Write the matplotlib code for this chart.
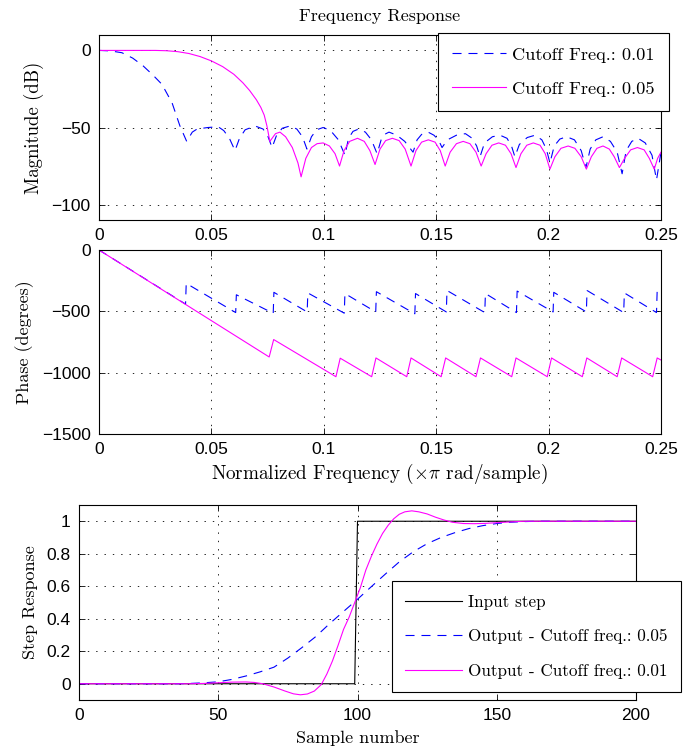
import matplotlib

matplotlib.use("Agg")
import matplotlib.pyplot as plt


# ---- magnitude response (normalized freq, dB) ----
MAG_FREQ_001 = [
    0.0, 0.005, 0.0102, 0.015, 0.0196, 0.024, 0.028, 0.0325, 0.036, 0.039,
    0.0415, 0.0436, 0.0485, 0.053, 0.0555, 0.058, 0.0605,
    0.0625, 0.065, 0.0694, 0.073, 0.0752, 0.077,
    0.079, 0.0815, 0.085, 0.088, 0.0905, 0.0925,
    0.0945, 0.0968, 0.0997, 0.103, 0.1065, 0.1094,
    0.111, 0.113, 0.1155, 0.1185, 0.1212, 0.1237,
    0.1255, 0.127, 0.129, 0.1325, 0.136, 0.1397,
    0.1415, 0.1435, 0.1464, 0.149, 0.151, 0.1526,
    0.155, 0.159, 0.163, 0.166, 0.168, 0.1695,
    0.1715, 0.175, 0.1784, 0.1815, 0.1835, 0.185,
    0.187, 0.1905, 0.194, 0.197, 0.199, 0.2006,
    0.2025, 0.205, 0.208, 0.2115, 0.2145, 0.2166,
    0.2185, 0.221, 0.2242, 0.2275, 0.2305, 0.2327,
    0.2345, 0.237, 0.2398, 0.243, 0.246, 0.248, 0.25,
]
MAG_DB_001 = [
    0, -0.3, -1.5, -5, -10, -16, -22, -34, -49, -59,
    -53, -51, -50, -49.5, -52, -57, -65,
    -57, -51.5, -49, -51, -56, -63,
    -55, -50.5, -49, -51, -56, -64,
    -56, -51.5, -50, -52, -58, -68,
    -57, -52.5, -51, -53, -58, -67,
    -58, -54.5, -53, -55, -59, -66,
    -58, -54.5, -53, -55, -58, -63,
    -58, -55, -54, -57, -62, -69,
    -60, -56, -55, -57, -62, -69,
    -61, -56.5, -55, -58, -64, -73,
    -62, -57.5, -56, -58, -65, -76,
    -64, -58, -56, -59, -66, -80,
    -65, -59, -57, -60, -68, -84, -66,
]

MAG_FREQ_005 = [
    0.0, 0.025, 0.03, 0.035, 0.04, 0.045, 0.05, 0.055, 0.06, 0.064,
    0.067, 0.07, 0.072, 0.0735, 0.0747, 0.076, 0.0785, 0.0805, 0.083,
    0.086, 0.0885,
    0.0899, 0.092, 0.0945, 0.097, 0.0997, 0.1025, 0.105, 0.107,
    0.109, 0.1115, 0.115, 0.118, 0.1205, 0.1228,
    0.125, 0.1275, 0.1305, 0.1335, 0.1362, 0.1388,
    0.141, 0.1435, 0.1465, 0.1495, 0.1518, 0.154,
    0.1562, 0.159, 0.162, 0.165, 0.1677, 0.17,
    0.1722, 0.1748, 0.1778, 0.1808, 0.1833, 0.1855,
    0.1877, 0.1903, 0.1932, 0.1962, 0.1985, 0.2006,
    0.2028, 0.2055, 0.2087, 0.2117, 0.2145, 0.2168,
    0.219, 0.2215, 0.2242, 0.227, 0.2292, 0.2315,
    0.2338, 0.2365, 0.2395, 0.2425, 0.2448, 0.247, 0.2485, 0.25,
]
MAG_DB_005 = [
    0, 0, -0.2, -0.8, -2.0, -4.0, -6.8, -10.5, -15.5, -21,
    -26, -32, -37, -42, -49, -59, -54, -53, -56,
    -63, -73,
    -82, -70, -63, -60.5, -60, -62, -67, -75,
    -65, -59, -57, -59, -65, -74,
    -64, -58.5, -57, -58.5, -64, -75,
    -65, -59.5, -58, -59.5, -65, -75,
    -66, -60.5, -59, -60.5, -66, -75,
    -67, -61.5, -60, -61.5, -67, -76,
    -67, -61.5, -60, -61.5, -67, -77,
    -69, -63.5, -62, -63.5, -69, -77,
    -69, -63.5, -62, -64, -69, -76,
    -70, -64.5, -63, -64.5, -70, -77, -70, -66,
]

# ---- phase response (normalized freq, degrees) ----
PHASE_FREQ_001 = [
    0.0, 0.0385, 0.0388, 0.0608, 0.0611, 0.0775, 0.0778, 0.0926, 0.0929,
    0.1091, 0.1094, 0.1231, 0.1234, 0.1405, 0.1408, 0.1545, 0.1548,
    0.1716, 0.1719, 0.1857, 0.186, 0.202, 0.2023, 0.2168, 0.2171,
    0.2334, 0.2337, 0.248, 0.2483, 0.25,
]
PHASE_DEG_001 = [
    0, -441, -272, -510, -365, -516, -345, -505, -350,
    -515, -355, -505, -340, -520, -355, -505, -330,
    -510, -355, -510, -335, -505, -345, -505, -330,
    -510, -350, -510, -330, -350,
]

PHASE_FREQ_005 = [
    0.0, 0.0757, 0.0777, 0.1054, 0.1073, 0.1213, 0.1232, 0.1369, 0.1388,
    0.1522, 0.1542, 0.1677, 0.1697, 0.1836, 0.1855, 0.1994, 0.2013,
    0.215, 0.217, 0.2305, 0.2325, 0.2463, 0.2483, 0.25,
]
PHASE_DEG_005 = [
    0, -872, -730, -1033, -882, -1033, -880, -1033, -880,
    -1033, -880, -1033, -880, -1033, -880, -1033, -880,
    -1033, -880, -1033, -880, -1033, -880, -897,
]

# ---- step response ----
STEP_N = [0, 99, 100, 200]
STEP_IN = [0, 0, 1, 1]

STEP_N_005 = [
    0, 35, 40, 45, 50, 55, 60, 65, 70, 75, 80, 85, 90, 95, 100, 105,
    110, 115, 120, 125, 130, 135, 140, 145, 150, 155, 160, 165, 200,
]
STEP_OUT_005 = [
    0, 0, 0.002, 0.006, 0.012, 0.027, 0.048, 0.073, 0.102, 0.158, 0.222,
    0.29, 0.37, 0.445, 0.52, 0.598, 0.675, 0.75, 0.812, 0.862, 0.9, 0.93,
    0.955, 0.973, 0.986, 0.994, 0.998, 1.0, 1.0,
]

STEP_N_001 = [
    0, 40, 45, 50, 55, 60, 63, 66, 70, 74, 77, 79.5, 82, 84.5, 87, 89, 91,
    93, 95, 97, 99, 101, 103, 105, 107, 109, 111, 113, 115, 117, 119.5,
    122, 125, 128, 131, 134, 138, 142, 146, 150, 155, 160, 200,
]
STEP_OUT_001 = [
    0, 0, 0.002, 0.006, 0.010, 0.011, 0.008, 0.0, -0.02, -0.045, -0.062,
    -0.068, -0.063, -0.045, -0.005, 0.06, 0.14, 0.235, 0.335, 0.41, 0.50,
    0.59, 0.70, 0.785, 0.86, 0.925, 0.975, 1.015, 1.043, 1.058, 1.064,
    1.058, 1.045, 1.025, 1.008, 0.994, 0.986, 0.985, 0.987, 0.991, 0.996,
    1.0, 1.0,
]

BLUE = "#0000ff"
MAGENTA = "#ff00ff"
SERIF = "cmr10"
TICK_FONT = "Liberation Sans"

plt.rcParams["mathtext.fontset"] = "cm"
plt.rcParams["axes.unicode_minus"] = True
plt.rcParams["lines.scale_dashes"] = False

DASHES = (6.5, 5)


def style_axes(ax):
    ax.tick_params(
        direction="in", length=4, width=0.6, top=True, right=True,
        labelsize=12.5, pad=6,
    )
    for label in ax.get_xticklabels() + ax.get_yticklabels():
        label.set_fontfamily(TICK_FONT)
    ax.grid(True, color="black", linestyle=(0, (1, 5)), linewidth=0.6)
    for spine in ax.spines.values():
        spine.set_linewidth(0.8)


def make_legend(fig, ax, loc_px, size, spacing, pad, handle):
    leg = ax.legend(
        loc="upper left",
        bbox_to_anchor=(loc_px[0] / 695, 1 - loc_px[1] / 748),
        bbox_transform=fig.transFigure,
        borderaxespad=0,
        prop={"family": SERIF, "size": size},
        fancybox=False,
        framealpha=1,
        edgecolor="black",
        handlelength=handle,
        labelspacing=spacing,
        borderpad=pad,
        handletextpad=0.35,
    )
    leg.get_frame().set_linewidth(0.8)


def plot_magnitude(fig):
    ax = fig.add_axes([99 / 695, 1 - 220 / 748, 562 / 695, 185 / 748])
    ax.plot(MAG_FREQ_001, MAG_DB_001, color=BLUE, linewidth=0.8,
            linestyle="--", dashes=DASHES, label="Cutoff Freq.: 0.01")
    ax.plot(MAG_FREQ_005, MAG_DB_005, color=MAGENTA, linewidth=0.8,
            label="Cutoff Freq.: 0.05")
    ax.set_xlim(0, 0.25)
    ax.set_ylim(-110, 10)
    ax.set_xticks([0, 0.05, 0.1, 0.15, 0.2, 0.25])
    ax.set_xticklabels(["0", "0.05", "0.1", "0.15", "0.2", "0.25"])
    ax.set_yticks([-100, -50, 0])
    style_axes(ax)
    ax.set_ylabel("Magnitude (dB)", family=SERIF, fontsize=13.5)
    ax.yaxis.set_label_coords(-0.098, 0.5)
    ax.text(0.5, 1.103, "Frequency Response", transform=ax.transAxes,
            ha="center", va="center", family=SERIF, fontsize=13)
    make_legend(fig, ax, (438, 33), 13.2, 1.0, 0.75, 2.95)


def plot_phase(fig):
    ax = fig.add_axes([99 / 695, 1 - 434 / 748, 562 / 695, 184 / 748])
    ax.plot(PHASE_FREQ_001, PHASE_DEG_001, color=BLUE, linewidth=0.8,
            linestyle="--", dashes=DASHES)
    ax.plot(PHASE_FREQ_005, PHASE_DEG_005, color=MAGENTA, linewidth=0.8)
    ax.set_xlim(0, 0.25)
    ax.set_ylim(-1500, 0)
    ax.set_xticks([0, 0.05, 0.1, 0.15, 0.2, 0.25])
    ax.set_xticklabels(["0", "0.05", "0.1", "0.15", "0.2", "0.25"])
    ax.set_yticks([-1500, -1000, -500, 0])
    style_axes(ax)
    ax.set_ylabel("Phase (degrees)", family=SERIF, fontsize=13)
    ax.yaxis.set_label_coords(-0.116, 0.5)
    ax.set_xlabel(r"Normalized Frequency ($\times\pi$ rad/sample)",
                  family=SERIF, fontsize=13.8)
    ax.xaxis.set_label_coords(0.5, -0.15)


def plot_step(fig):
    ax = fig.add_axes([79 / 695, 1 - 700 / 748, 557 / 695, 195 / 748])
    ax.plot(STEP_N, STEP_IN, color="black", linewidth=0.8, label="Input step")
    ax.plot(STEP_N_005, STEP_OUT_005, color=BLUE, linewidth=0.8,
            linestyle="--", dashes=DASHES,
            label="Output - Cutoff freq.: 0.05")
    ax.plot(STEP_N_001, STEP_OUT_001, color=MAGENTA, linewidth=0.8,
            label="Output - Cutoff freq.: 0.01")
    ax.set_xlim(0, 200)
    ax.set_ylim(-0.1, 1.1)
    ax.set_xticks([0, 50, 100, 150, 200])
    ax.set_yticks([0, 0.2, 0.4, 0.6, 0.8, 1])
    ax.set_yticklabels(["0", "0.2", "0.4", "0.6", "0.8", "1"])
    style_axes(ax)
    ax.set_ylabel("Step Response", family=SERIF, fontsize=13)
    ax.yaxis.set_label_coords(-0.074, 0.5)
    ax.set_xlabel("Sample number", family=SERIF, fontsize=13)
    ax.xaxis.set_label_coords(0.5, -0.155)
    make_legend(fig, ax, (392, 581), 12.3, 1.12, 0.78, 3.3)


def main() -> None:
    fig = plt.figure(figsize=(6.95, 7.48), dpi=100)
    plot_magnitude(fig)
    plot_phase(fig)
    plot_step(fig)
    fig.savefig("out.png", dpi=100)
    plt.close(fig)


if __name__ == "__main__":
    main()
